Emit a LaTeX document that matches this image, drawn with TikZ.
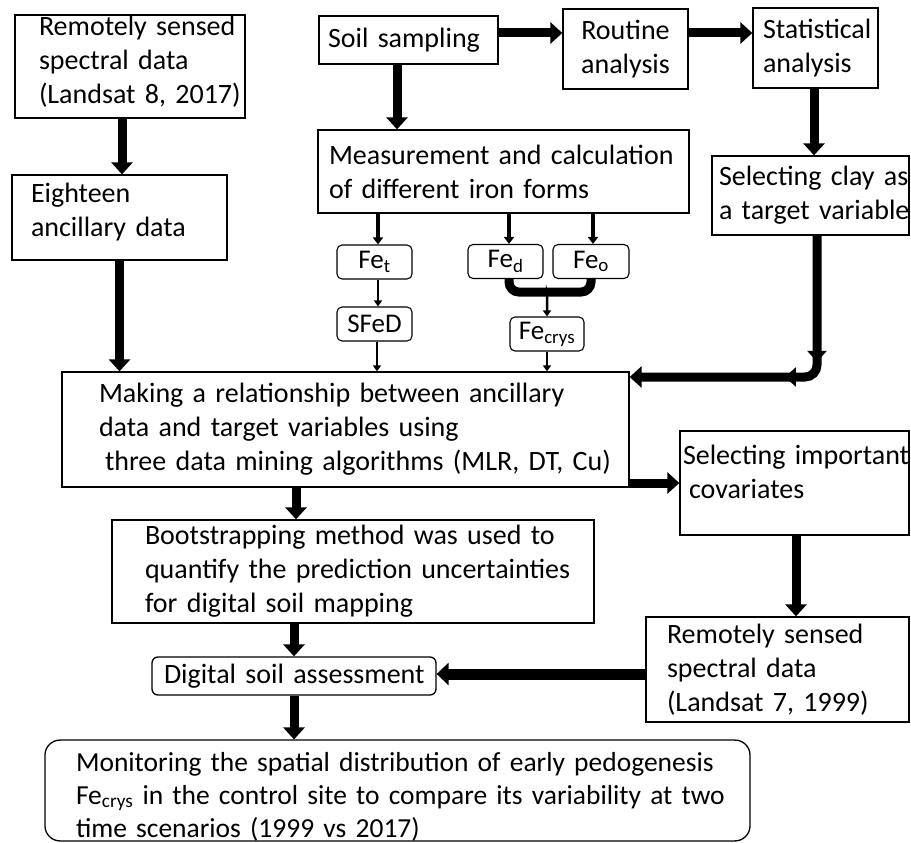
\documentclass[tikz,border=0pt]{standalone}
\usepackage{fontspec}
\setmainfont{Carlito}
\newfontfamily\tightfont{Carlito}[WordSpace=0.6]
\usetikzlibrary{arrows.meta,calc,decorations.markings}
\begin{document}
\begin{tikzpicture}[x=1pt,y=-1pt,
  box/.style={draw, line width=1.3pt, inner ysep=0pt, align=left,
    font=\fontsize{28}{34}\selectfont},
  febox/.style={draw, line width=1.1pt, rounded corners=5pt, inner ysep=0pt,
    inner xsep=2pt, text width=71pt, minimum height=34pt, align=center,
    font=\fontsize{27}{30}\selectfont},
  fat/.style={line width=9pt, -{Triangle[width=21pt,length=12pt]}},
  medarrow/.style={line width=3.5pt, -{Triangle[width=10pt,length=7pt]}},
  thinarrow/.style={line width=2.5pt, -{Triangle[width=8pt,length=6pt]}},
  uline/.style={line width=9pt, rounded corners=10pt}
]
\useasboundingbox (0,0) rectangle (911,843);

% boxes
\node[box, text width=182pt, inner xsep=24pt, minimum height=103pt] (A) at (130,66.5)
  {\mbox{Remotely sensed\rule{0pt}{13pt}}\\\mbox{spectral data}\\\mbox{(Landsat 8, 2017)\rule[-14pt]{0pt}{1pt}}};
\node[box, text width=177pt, inner xsep=19pt, minimum height=85pt] (B) at (119.5,217.5)
  {\mbox{Eighteen}\\\mbox{ancillary data\rule[-16pt]{0pt}{1pt}}};
\node[box, text width=161pt, inner xsep=9pt, minimum height=48pt] (soil) at (408.5,40)
  {\mbox{Soil sampling}};
\node[box, text width=105pt, inner xsep=10pt, minimum height=80pt, align=center] (routine) at (625.5,49)
  {\mbox{Routine}\\\mbox{analysis}};
\node[box, text width=105pt, inner xsep=10pt, minimum height=80pt] (stat) at (815.5,48)
  {\mbox{Statistical}\\\mbox{analysis}};
\node[box, text width=349pt, inner xsep=11pt, minimum height=83pt] (meas) at (503.5,171.5)
  {\mbox{Measurement and calculation}\\\mbox{of different iron forms}};
\node[box, text width=183pt, inner xsep=7pt, minimum height=79pt] (clay) at (810.5,195.5)
  {\mbox{Selecting clay as}\\\mbox{a target variable}};

\node[febox] (fet) at (374.5,262) {Fe\textsubscript{t}};
\node[febox] (sfed) at (374.5,324) {SFeD};
\node[febox] (fed) at (505.5,261.5) {Fe\textsubscript{d}};
\node[febox, text width=72pt] (feo) at (591,261.5) {Fe\textsubscript{o}};
\node[febox, text width=70pt] (fecrys) at (547,334) {Fe\textsubscript{crys}};

\node[box, text width=493pt, inner xsep=37pt, minimum height=115pt] (making) at (345.5,429.5)
  {\mbox{Making a relationship between ancillary}\\\mbox{data and target variables using}\\\mbox{\hspace*{6pt}three data mining algorithms (MLR, DT, Cu)}};
\node[box, text width=223pt, inner xsep=3pt, minimum height=104pt] (cov) at (794.5,483)
  {\mbox{Selecting important}\\\mbox{\hspace*{6pt}covariates\rule[-22pt]{0pt}{1pt}}};
\node[box, text width=416pt, inner xsep=33pt, minimum height=103pt] (boot) at (353,571.5)
  {\mbox{Bootstrapping method was used to}\\\mbox{quantify the prediction uncertainties}\\\mbox{for digital soil mapping}};
\node[box, text width=221pt, inner xsep=21pt, minimum height=105pt] (rem2) at (777.5,669.5)
  {\mbox{Remotely sensed}\\\mbox{spectral data}\\\mbox{(Landsat 7, 1999)}};
\node[box, rounded corners=6pt, text width=260pt, inner xsep=12pt, minimum height=38pt] (digital) at (294,676)
  {\mbox{Digital soil assessment}};
\node[box, rounded corners=15pt, text width=643pt, inner xsep=31pt, minimum height=99pt,
  font=\tightfont\fontsize{27.5}{33}\selectfont] (mon) at (397.5,790.5)
  {\mbox{\rule{0pt}{31pt}Monitoring the spatial distribution of early pedogenesis}\\\mbox{Fe\textsubscript{crys} in the control site to compare its variability at two}\\\mbox{time scenarios (1999 vs 2017)}};

% connectors
\draw[fat] ([xshift=-8pt]A.south) -- ([xshift=2.5pt]B.north);
\draw[fat] (B.south) -- (B.south |- making.north);
\draw[fat] ([yshift=7pt]soil.east) -- ([yshift=16pt]routine.west);
\draw[fat] ([yshift=16pt]routine.east) -- ([yshift=15pt]stat.west);
\coordinate (sm) at ([xshift=-11.5pt]soil.south);
\draw[fat] (sm) -- (sm |- meas.north);
\coordinate (sc) at ([xshift=-1.5pt]stat.south);
\draw[fat] (sc) -- (sc |- clay.north);

\coordinate (mt) at ([xshift=3.5pt]fet.north);
\draw[medarrow] (mt |- meas.south) -- (mt);
\coordinate (md) at ([xshift=3.5pt]fed.north);
\draw[medarrow] (md |- meas.south) -- (md);
\coordinate (mo) at ([xshift=2pt]feo.north);
\draw[medarrow] (mo |- meas.south) -- (mo);
\draw[thinarrow] ([xshift=3.5pt]fet.south) -- ([xshift=3.5pt]sfed.north);
\coordinate (sd) at ([xshift=2.5pt]sfed.south);
\draw[thinarrow] (sd) -- (sd |- making.north);

\coordinate (ujoin) at ($(fed.south)!0.5!(feo.south)+(0,13)$);
\draw[uline] ([xshift=3.5pt]fed.south) |- (ujoin) -| (feo.south);
\draw[thinarrow] ([yshift=-4pt]ujoin) -- (ujoin -| fecrys.north) -- (fecrys.north);
\draw[thinarrow] (fecrys.south) -- (fecrys.south |- making.north);

\coordinate (cm) at ([yshift=52.5pt]making.east);
\coordinate (cs) at ([xshift=6.5pt]clay.south);
\draw[line width=9pt, rounded corners=12pt, -{Triangle[width=21pt,length=12pt]},
  postaction={decorate, decoration={markings,
    mark=at position 0.39 with {\arrow{Triangle[width=19pt,length=11pt]}},
    mark=at position 0.52 with {\arrow{Triangle[width=19pt,length=11pt]}}}}]
  (cs) |- (cm);

\coordinate (mc) at ([yshift=-53.5pt]making.east);
\draw[fat] (mc) -- (mc -| cov.west);
\coordinate (bt) at ([xshift=-57pt]boot.north);
\draw[fat] (bt |- making.south) -- (bt);
\coordinate (cr) at ([xshift=1.5pt]cov.south);
\draw[fat] (cr) -- (cr |- rem2.north);
\draw[fat] (digital.north |- boot.south) -- (digital.north);
\coordinate (rd) at ([yshift=-4.5pt]rem2.west);
\draw[line width=11pt, -{Triangle[width=22pt,length=12pt]}] (rd) -- (rd -| digital.east);
\draw[fat] (digital.south) -- (digital.south |- mon.north);
\end{tikzpicture}
\end{document}
